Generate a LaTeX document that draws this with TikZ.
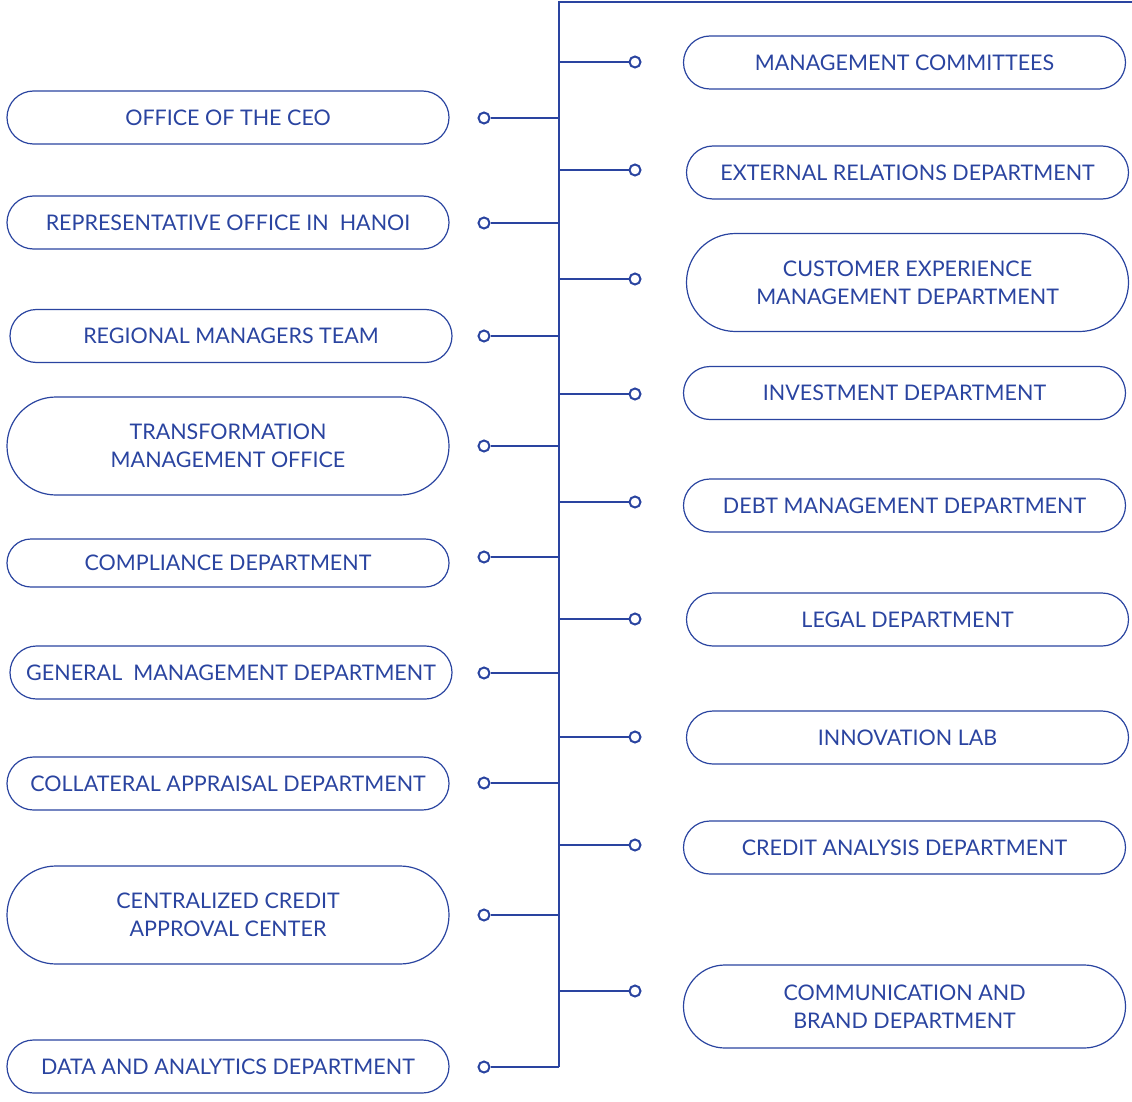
\documentclass[tikz,border=0pt]{standalone}
\usepackage{fontspec}
\setmainfont{Lato}
\usetikzlibrary{shapes.misc}
\definecolor{navy}{RGB}{42,68,160}
\tikzset{
  pill/.style={rounded rectangle, draw=navy, line width=1.2pt, text=navy,
    font=\fontsize{21.5}{28}\selectfont, align=center, inner sep=0pt},
  sbox/.style={pill, minimum width=442pt, minimum height=53pt},
  tbox/.style={pill, minimum width=442pt, minimum height=98pt},
  dot/.style={circle, draw=navy, line width=2pt, fill=white, minimum size=11pt, inner sep=0pt},
  wire/.style={draw=navy, line width=1.4pt}
}
\begin{document}
\begin{tikzpicture}[x=1pt,y=-1pt]
\useasboundingbox (0,0) rectangle (1132,1102);
% spine
\coordinate (top) at (559,2);
\coordinate (topend) at (1132,2);
\coordinate (bot) at (559,1067);
\draw[wire] (topend) -- (top) -- (bot);
% left boxes
\node[sbox] (L1) at (228,117.5) {OFFICE OF THE CEO};
\node[sbox] (L2) at (228,222.5) {REPRESENTATIVE OFFICE IN \ HANOI};
\node[sbox] (L3) at (231,336) {REGIONAL MANAGERS TEAM};
\node[tbox] (L4) at (228,446) {TRANSFORMATION\\MANAGEMENT OFFICE};
\node[pill, minimum width=442pt, minimum height=48pt] (L5) at (228,563) {COMPLIANCE DEPARTMENT};
\node[sbox] (L6) at (231,672.5) {GENERAL \ MANAGEMENT DEPARTMENT};
\node[sbox] (L7) at (228,783.5) {COLLATERAL APPRAISAL DEPARTMENT};
\node[tbox] (L8) at (228,915) {CENTRALIZED CREDIT\\APPROVAL CENTER};
\node[sbox] (L9) at (228,1066.5) {DATA AND ANALYTICS DEPARTMENT};
% right boxes
\node[sbox] (R1) at (904.5,62.5) {MANAGEMENT COMMITTEES};
\node[sbox] (R2) at (907.5,172.5) {EXTERNAL RELATIONS DEPARTMENT};
\node[tbox] (R3) at (907.5,282.5) {CUSTOMER EXPERIENCE\\MANAGEMENT DEPARTMENT};
\node[sbox] (R4) at (904.5,393) {INVESTMENT DEPARTMENT};
\node[sbox] (R5) at (904.5,505.5) {DEBT MANAGEMENT DEPARTMENT};
\node[sbox] (R6) at (907.5,619.5) {LEGAL DEPARTMENT};
\node[sbox] (R7) at (907.5,737.5) {INNOVATION LAB};
\node[sbox] (R8) at (904.5,847.5) {CREDIT ANALYSIS DEPARTMENT};
\node[pill, minimum width=442pt, minimum height=83pt] (R9) at (904.5,1006.5) {COMMUNICATION AND\\BRAND DEPARTMENT};
% left dots
\foreach \n/\y in {1/118,2/223,3/336,4/446,5/557,6/673,7/783,8/915,9/1067}{
  \node[dot] (dl\n) at (484,\y) {};
  \coordinate (sl\n) at (559,\y);
  \draw[wire] (dl\n) -- (sl\n);
}
% right dots
\foreach \n/\y in {1/62,2/170,3/279,4/394,5/502,6/619,7/737,8/845,9/991}{
  \node[dot] (dr\n) at (635,\y) {};
  \coordinate (sr\n) at (559,\y);
  \draw[wire] (sr\n) -- (dr\n);
}
\end{tikzpicture}
\end{document}
